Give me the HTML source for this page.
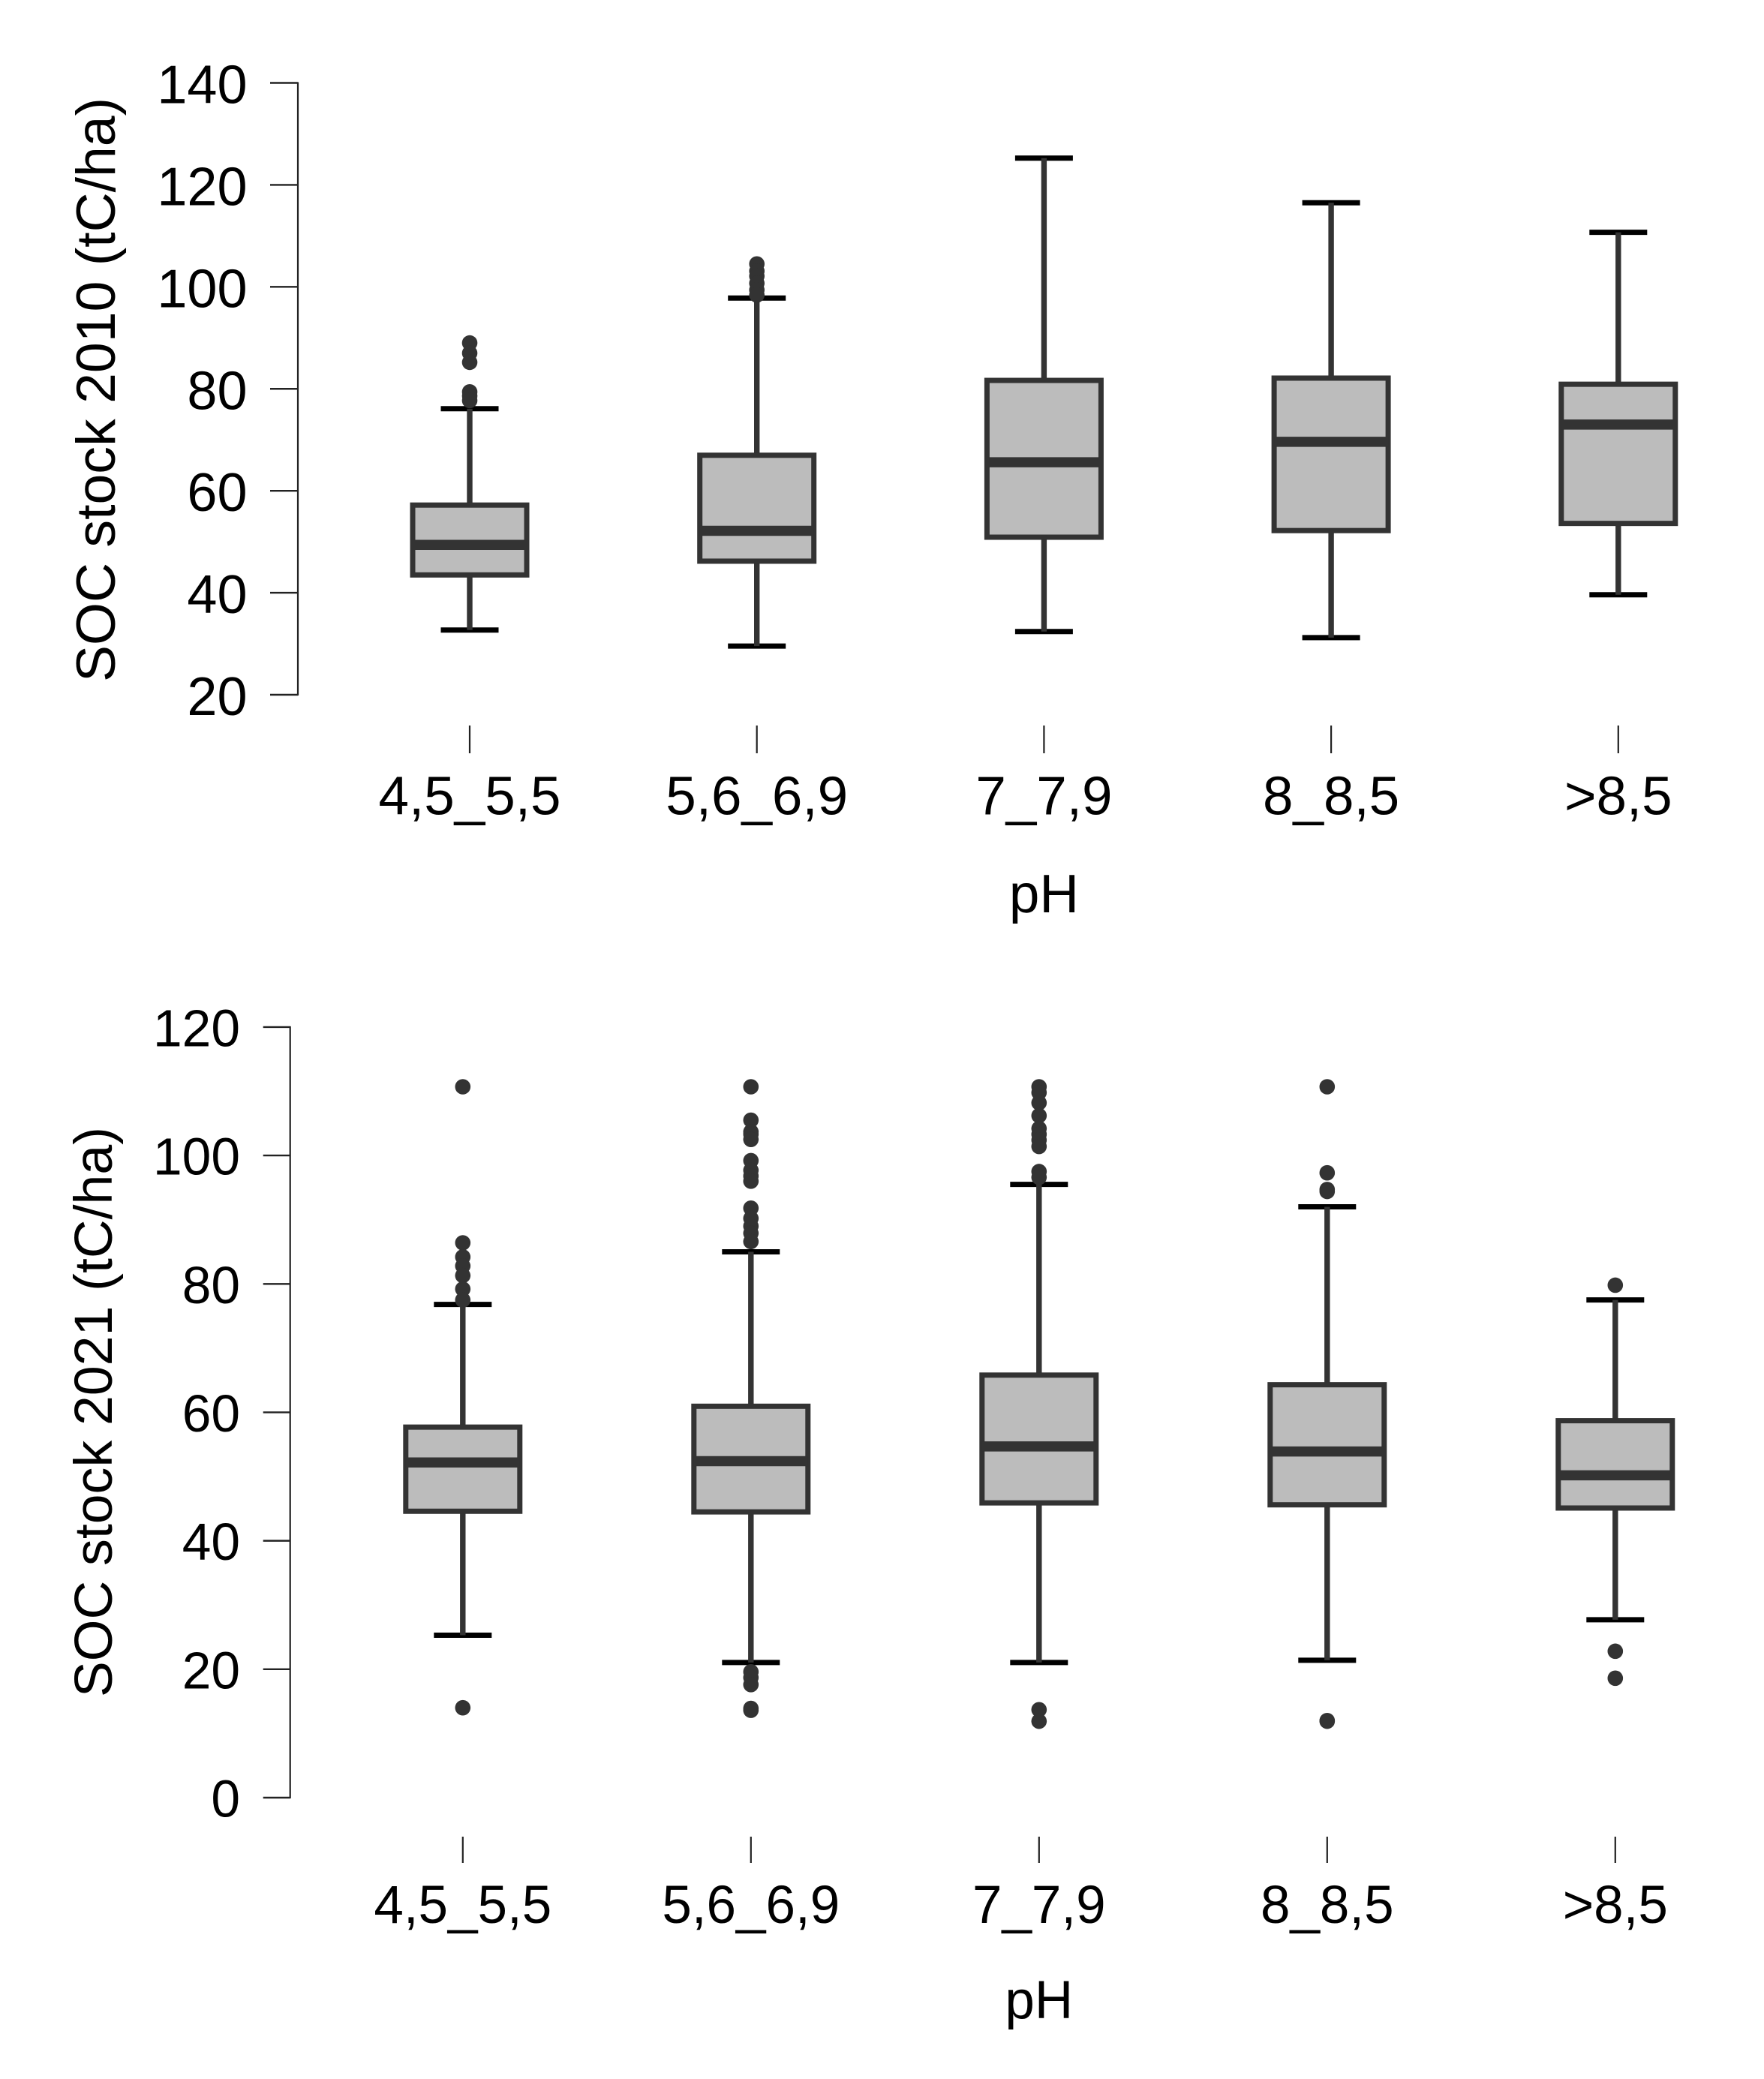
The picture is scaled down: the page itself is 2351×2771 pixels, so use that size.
<!DOCTYPE html>
<html lang="en">
<head>
<meta charset="utf-8">
<title>SOC stock by pH</title>
<style>
html,body{margin:0;padding:0;background:#fff;}
svg{display:block;}
text{font-family:"Liberation Sans",Arial,sans-serif;fill:#000;}
</style>
</head>
<body>
<svg id="figure" xmlns="http://www.w3.org/2000/svg" width="2351" height="2771" viewBox="0 0 2351 2771">
<rect x="0" y="0" width="2351" height="2771" fill="#ffffff"/>
</svg>
<script>
const categories = ["4,5_5,5", "5,6_6,9", "7_7,9", "8_8,5", ">8,5"];

const yTicks2010 = [20, 40, 60, 80, 100, 120, 140];
const lowerCap2010 = [32.7, 29.55, 32.4, 31.2, 39.6];
const q1_2010 = [43.5, 46.2, 50.9, 52.2, 53.6];
const median2010 = [49.4, 52.15, 65.6, 69.6, 73.0];
const q3_2010 = [57.2, 66.97, 81.65, 82.1, 80.9];
const upperCap2010 = [76.1, 97.8, 125.25, 116.5, 110.7];
const outliers2010 = [
  [89.0, 87.0, 85.2, 79.4, 78.6, 77.7],
  [104.5, 103.1, 102.1, 100.7, 99.4, 98.4],
  [],
  [],
  []
];

const yTicks2021 = [0, 20, 40, 60, 80, 100, 120];
const lowerCap2021 = [25.3, 21.05, 21.05, 21.4, 27.7];
const q1_2021 = [44.6, 44.5, 45.9, 45.6, 45.1];
const median2021 = [52.2, 52.4, 54.7, 53.9, 50.2];
const q3_2021 = [57.7, 60.95, 65.8, 64.3, 58.7];
const upperCap2021 = [76.8, 85, 95.5, 92, 77.5];
const outliers2021 = [
  [110.7, 86.4, 84.2, 82.8, 81.3, 79.2, 77.5, 14.0],
  [110.7, 105.5, 103.7, 103.3, 102.5, 99.2, 97.7, 96.8, 96.0, 91.8, 90.2, 89, 87.9, 86.6, 19.6, 18.7, 17.6, 13.9, 13.6],
  [110.7, 109.8, 108.2, 106.2, 104.2, 103.3, 102.4, 101.4, 97.5, 96.6, 13.7, 11.9],
  [110.7, 97.3, 94.7, 94.4, 12.0, 11.9],
  [79.8, 22.8, 18.6]
];

const svg = document.getElementById('figure');
const NS = 'http://www.w3.org/2000/svg';

function make(tag, attrs, parent) {
  const el = document.createElementNS(NS, tag);
  Object.keys(attrs).forEach(function (k) { el.setAttribute(k, attrs[k]); });
  parent.appendChild(el);
  return el;
}

function linearY(vA, pA, vB, pB) {
  return function (v) { return pA + (v - vA) * (pB - pA) / (vB - vA); };
}

function drawChart(cfg) {
  const y = cfg.yScale;
  const x = function (i) { return cfg.xStart + i * cfg.xStep; };

  const g = make('g', {}, svg);
  
  

  // y axis
  const yAxis = make('line', { x1: cfg.axisX, x2: cfg.axisX, y1: y(cfg.yTicks[cfg.yTicks.length - 1]) - 1, y2: y(cfg.yTicks[0]) + 1, stroke: '#222', 'stroke-width': 2.2 }, g);
  
  

  cfg.yTicks.forEach(function (t) {
    const tick = make('line', { x1: cfg.axisX - cfg.tickLen, x2: cfg.axisX, y1: y(t), y2: y(t), stroke: '#222', 'stroke-width': 2.4 }, g);
    
    
    const lab = make('text', { x: cfg.yLabelX, y: y(t) + cfg.yLabelDy, 'text-anchor': 'end', 'font-size': cfg.tickFontSize }, g);
    lab.textContent = String(t);
    
    
  });

  // y title
  const title = make('text', { transform: 'translate(' + cfg.titleX + ',' + cfg.titleY + ') rotate(-90)', 'text-anchor': 'middle', 'font-size': cfg.titleFontSize }, g);
  title.textContent = cfg.title;
  
  

  // x ticks and labels
  categories.forEach(function (c, i) {
    const tick = make('line', { x1: x(i), x2: x(i), y1: cfg.xTickTop, y2: cfg.xTickBottom, stroke: '#222', 'stroke-width': 2.2 }, g);
    
    
    const lab = make('text', { x: x(i), y: cfg.xLabelY, 'text-anchor': 'middle', 'font-size': cfg.fontSize }, g);
    lab.textContent = c;
    
    
  });

  const xTitle = make('text', { x: x(2), y: cfg.xTitleY, 'text-anchor': 'middle', 'font-size': cfg.fontSize }, g);
  xTitle.textContent = 'pH';
  
  

  // boxes
  categories.forEach(function (c, i) {
    const cx = x(i);
    const box = make('g', {}, g);
    
    

    [cfg.upper[i], cfg.lower[i]].forEach(function (v) {
      const cap = make('line', { x1: cx - 38.5, x2: cx + 38.5, y1: y(v), y2: y(v), stroke: '#000', 'stroke-width': 7 }, box);
      
      
    });

    const whiskerHi = make('line', { x1: cx, x2: cx, y1: y(cfg.upper[i]), y2: y(cfg.q3[i]), stroke: '#333', 'stroke-width': 7.4 }, box);
    
    
    const whiskerLo = make('line', { x1: cx, x2: cx, y1: y(cfg.q1[i]), y2: y(cfg.lower[i]), stroke: '#333', 'stroke-width': 7.4 }, box);
    
    

    const rect = make('rect', { x: cx - 76, y: y(cfg.q3[i]), width: 152, height: y(cfg.q1[i]) - y(cfg.q3[i]), fill: '#bcbcbc', stroke: '#333', 'stroke-width': 7 }, box);
    
    

    const med = make('line', { x1: cx - 76, x2: cx + 76, y1: y(cfg.median[i]), y2: y(cfg.median[i]), stroke: '#333', 'stroke-width': 13.5 }, box);
    
    

    cfg.outliers[i].forEach(function (v) {
      const dot = make('circle', { cx: cx, cy: y(v), r: 10.3, fill: '#333' }, box);
      
      
    });
  });
}

drawChart({
  name: 'soc-2010-chart', key: '2010', title: 'SOC stock 2010 (tC/ha)',
  yScale: linearY(20, 926, 140, 110.5), yTicks: yTicks2010,
  xStart: 626, xStep: 382.7, axisX: 397, tickLen: 37,
  yLabelX: 329.5, yLabelDy: 27, titleX: 153, titleY: 519.5,
  xTickTop: 967, xTickBottom: 1004, xLabelY: 1085.5, xTitleY: 1216,
  fontSize: 72.8, tickFontSize: 72, titleFontSize: 73.4,
  lower: lowerCap2010, q1: q1_2010, median: median2010, q3: q3_2010, upper: upperCap2010, outliers: outliers2010
});

drawChart({
  name: 'soc-2021-chart', key: '2021', title: 'SOC stock 2021 (tC/ha)',
  yScale: linearY(0, 2396, 120, 1368.9), yTicks: yTicks2021,
  xStart: 616.8, xStep: 384, axisX: 386.7, tickLen: 36,
  yLabelX: 320, yLabelDy: 25.5, titleX: 149, titleY: 1882,
  xTickTop: 2448, xTickBottom: 2483, xLabelY: 2563, xTitleY: 2690,
  fontSize: 71, tickFontSize: 69.5, titleFontSize: 71.6,
  lower: lowerCap2021, q1: q1_2021, median: median2021, q3: q3_2021, upper: upperCap2021, outliers: outliers2021
});
</script>
</body>
</html>
